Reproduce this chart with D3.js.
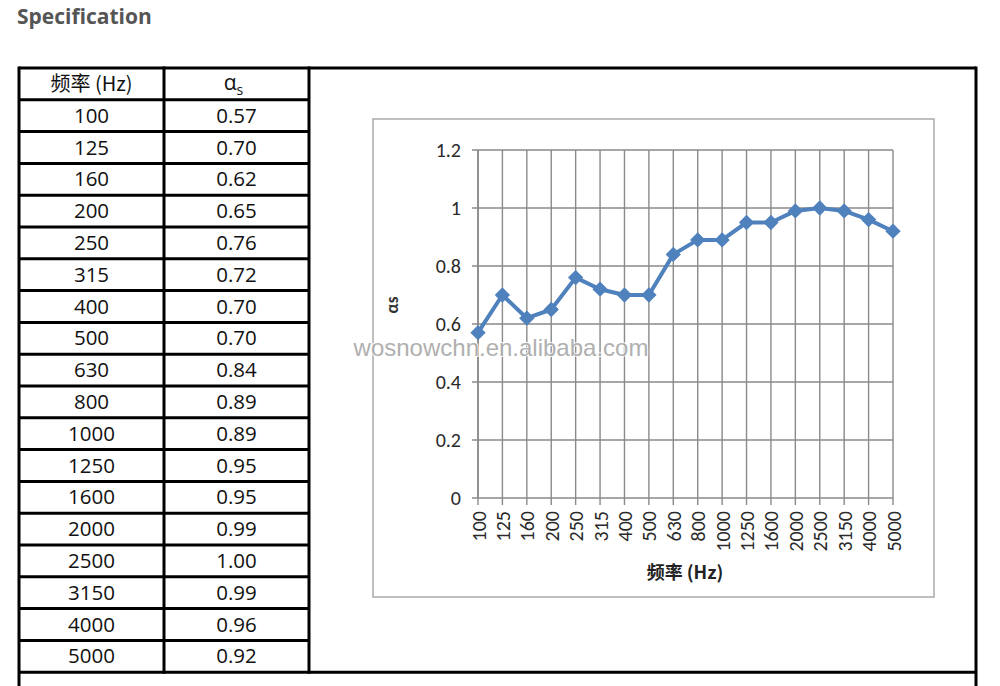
<!DOCTYPE html>
<html><head><meta charset="utf-8">
<script src="https://cdn.jsdelivr.net/npm/d3@7"></script>
<style>body{margin:0;background:#fff;}svg{display:block;}</style>
</head><body>
<svg id="c" width="1000" height="686"></svg>
<script>
const freqs = ["100","125","160","200","250","315","400","500","630","800","1000","1250","1600","2000","2500","3150","4000","5000"];
const alphaS = [0.57,0.70,0.62,0.65,0.76,0.72,0.70,0.70,0.84,0.89,0.89,0.95,0.95,0.99,1.00,0.99,0.96,0.92];
const alphaLabels = ["0.57","0.70","0.62","0.65","0.76","0.72","0.70","0.70","0.84","0.89","0.89","0.95","0.95","0.99","1.00","0.99","0.96","0.92"];
const yTicks = [0,0.2,0.4,0.6,0.8,1,1.2];

const svg = d3.select("#c");
svg.append("text").attr("x",17).attr("y",24).attr("font-family","'Open Sans',sans-serif")
  .attr("font-weight","bold").attr("font-size",21).attr("fill","#555").text("Specification");

// Table
const tL=19, tR=976, c1=164, c2=309, tTop=68, rowH=31.8;
const nRows = freqs.length+1;
const tBot = tTop+nRows*rowH;
const tbl = svg.append("g");
const ff = "'Open Sans','Noto Sans',sans-serif";
const hy = tTop+rowH/2+7;
tbl.append("text").attr("x",(tL+c1)/2).attr("y",hy).attr("text-anchor","middle").attr("font-family","'Noto Sans CJK SC',sans-serif").attr("font-size",20).attr("fill","#111").text("频率 (Hz)");
const ht = tbl.append("text").attr("x",(c1+c2)/2-3).attr("y",hy-1).attr("text-anchor","middle").attr("font-family",ff).attr("font-size",21).attr("fill","#111");
ht.append("tspan").text("α");
ht.append("tspan").attr("font-size",14).attr("dy",5).text("s");
freqs.forEach((f,i)=>{
  const yy = tTop+(i+1)*rowH+rowH/2+7;
  tbl.append("text").attr("x",(tL+c1)/2).attr("y",yy).attr("text-anchor","middle").attr("font-family",ff).attr("font-size",20.5).attr("fill","#111").text(f);
  tbl.append("text").attr("x",(c1+c2)/2).attr("y",yy).attr("text-anchor","middle").attr("font-family",ff).attr("font-size",20.5).attr("fill","#111").text(alphaLabels[i]);
});
for(let i=0;i<=nRows;i++){
  const yy=tTop+i*rowH;
  tbl.append("line").attr("x1",tL).attr("x2",(i===0||i===nRows)?tR:c2).attr("y1",yy).attr("y2",yy).attr("stroke","#000").attr("stroke-width",3);
}
[[tL,tTop,686],[c1,tTop,tBot],[c2,tTop,tBot],[tR,tTop,686]].forEach(([xx,y1,y2])=>{
  tbl.append("line").attr("x1",xx).attr("x2",xx).attr("y1",y1-1.5).attr("y2",y2+1.5).attr("stroke","#000").attr("stroke-width",3);
});

// Chart box
svg.append("rect").attr("x",373).attr("y",119).attr("width",561).attr("height",478).attr("fill","#fff").attr("stroke","#aaa").attr("stroke-width",1.5);

const pL=478, pR=893, pT=150, pB=498;
const x = d3.scalePoint().domain(freqs).range([pL,pR]);
const y = d3.scaleLinear().domain([0,1.2]).range([pB,pT]);
const g = svg.append("g");
const grid="#8a8a8a";
yTicks.forEach(t=>{
  g.append("line").attr("x1",pL-6).attr("x2",pR).attr("y1",y(t)).attr("y2",y(t)).attr("stroke",grid).attr("stroke-width",1.4);
});
freqs.forEach(f=>{
  g.append("line").attr("x1",x(f)).attr("x2",x(f)).attr("y1",pT).attr("y2",pB+7).attr("stroke",grid).attr("stroke-width",1.4);
});
g.append("line").attr("x1",pL).attr("x2",pL).attr("y1",pT).attr("y2",pB).attr("stroke",grid).attr("stroke-width",1.6);

const tickFont = "Carlito,Calibri,'Liberation Sans',sans-serif";
const yAx = g.append("g").attr("transform",`translate(${pL},0)`).call(d3.axisLeft(y).tickValues(yTicks).tickSize(0).tickPadding(17).tickFormat(d=>d3.format("")(d)));
yAx.select(".domain").remove();
yAx.attr("font-size",null).attr("font-family",null);
yAx.selectAll("text").style("font-family",tickFont).style("font-size","20px").style("fill","#2a2a2a");

const xAx = g.append("g").attr("transform",`translate(0,${pB})`).call(d3.axisBottom(x).tickSize(0).tickPadding(0));
xAx.select(".domain").remove();
xAx.attr("font-size",null).attr("font-family",null);
xAx.selectAll("text").style("font-family",tickFont).style("font-size","20px").style("fill","#2a2a2a")
  .attr("transform","rotate(-90)").attr("text-anchor","end").attr("x",-13).attr("y",0).attr("dy","0.35em");

svg.append("text").attr("x",685).attr("y",579).attr("text-anchor","middle").attr("font-family","'Noto Sans CJK SC',sans-serif").attr("font-weight","bold").attr("font-size",18).attr("fill","#222").text("频率 (Hz)");
svg.append("text").attr("transform","translate(398,305) rotate(-90)").attr("text-anchor","middle").attr("font-family",tickFont).attr("font-weight","bold").attr("font-size",17).attr("fill","#333").text("αs");

const line = d3.line().x((d,i)=>x(freqs[i])).y(d=>y(d));
svg.append("path").datum(alphaS).attr("d",line).attr("fill","none").attr("stroke","#4f81bd").attr("stroke-width",4).attr("stroke-linejoin","round");
svg.selectAll(".m").data(alphaS).enter().append("path").attr("class","m")
  .attr("d",d3.symbol(d3.symbolDiamond2,150)).attr("transform",(d,i)=>`translate(${x(freqs[i])},${y(d)})`).attr("fill","#4f81bd");

svg.append("text").attr("x",501).attr("y",356).attr("text-anchor","middle").attr("font-family","'Liberation Sans',Arial,sans-serif").attr("font-size",24).attr("fill","#a8a8a8").attr("stroke","#fff").attr("stroke-width",2).attr("paint-order","stroke").attr("opacity",0.9).text("wosnowchn.en.alibaba.com");
</script>
</body></html>
